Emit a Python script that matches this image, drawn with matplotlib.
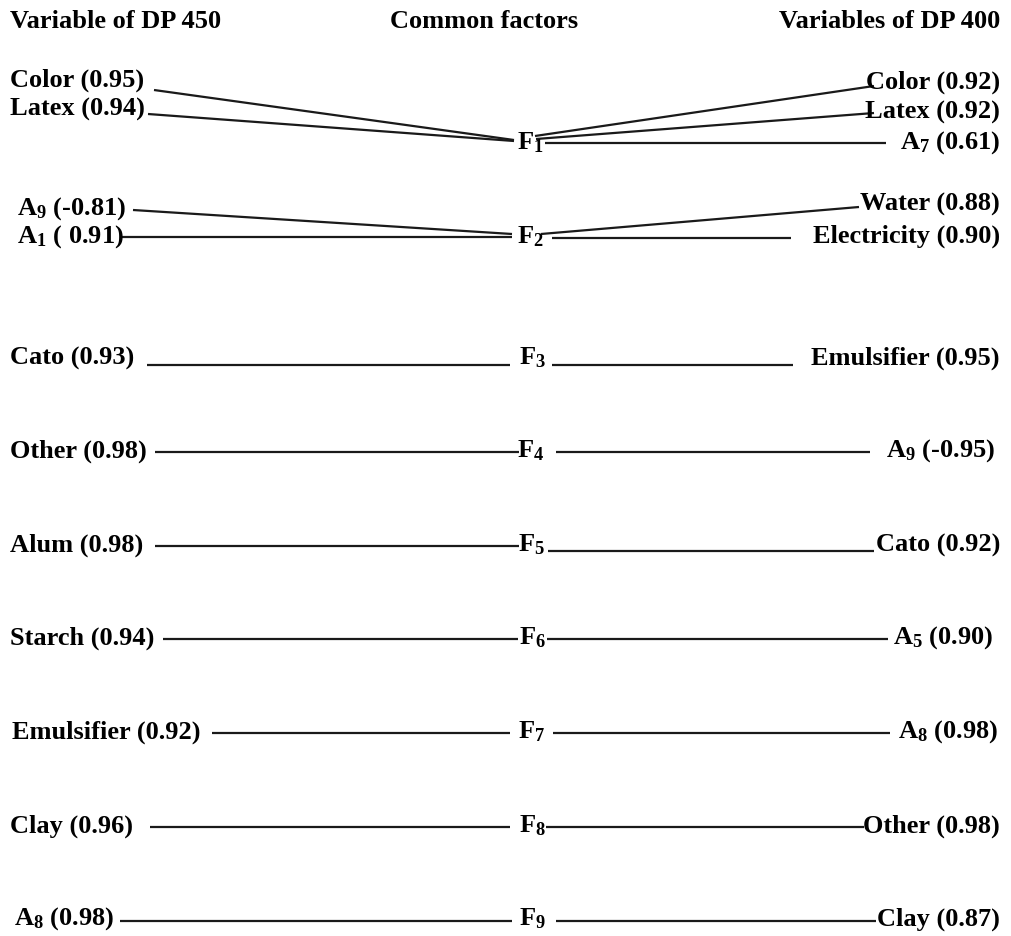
import matplotlib.pyplot as plt

plt.rcParams['font.family'] = ['Liberation Serif', 'DejaVu Serif']
plt.rcParams['font.weight'] = 'bold'
plt.rcParams['mathtext.fontset'] = 'custom'
plt.rcParams['mathtext.rm'] = 'Liberation Serif:bold'
plt.rcParams['mathtext.bf'] = 'Liberation Serif:bold'
plt.rcParams['mathtext.it'] = 'Liberation Serif:bold'
plt.rcParams['mathtext.default'] = 'rm'

# common factors and the variables loading on them
factors = ['F$_1$', 'F$_2$', 'F$_3$', 'F$_4$', 'F$_5$', 'F$_6$', 'F$_7$', 'F$_8$', 'F$_9$']

dp450_names = [['Color', 'Latex'], ['A$_9$', 'A$_1$'], ['Cato'], ['Other'], ['Alum'],
               ['Starch'], ['Emulsifier'], ['Clay'], ['A$_8$']]
dp450_loadings = [[0.95, 0.94], [-0.81, 0.91], [0.93], [0.98], [0.98],
                  [0.94], [0.92], [0.96], [0.98]]

dp400_names = [['Color', 'Latex', 'A$_7$'], ['Water', 'Electricity'], ['Emulsifier'], ['A$_9$'],
               ['Cato'], ['A$_5$'], ['A$_8$'], ['Other'], ['Clay']]
dp400_loadings = [[0.92, 0.92, 0.61], [0.88, 0.90], [0.95], [-0.95],
                  [0.92], [0.90], [0.98], [0.98], [0.87]]

headers = ['Variable of DP 450', 'Common factors', 'Variables of DP 400']

# layout (pixels)
row_y = [143, 237, 358, 451, 545, 638, 732, 826, 919]
factor_x = [530, 530, 532, 531, 531, 532, 532, 532, 532]
left_label_y = [[80, 109], [209, 237]]
right_label_y = [[82, 112, 143], [204, 236]]
left_label_x = [[10, 10], [17, 17], 10, 10, 10, 10, 12, 10, 14]
right_label_x = [[1000, 1000, 1000], [1000, 1000], 1000, 995, 1000, 993, 998, 1000, 1000]
# connector ends: (x_label_side, y_label_side, x_factor_side, y_factor_side)
left_links = [[(154, 91, 514, 141), (148, 115, 514, 142)],
              [(133, 211, 512, 235), (120, 238, 512, 238)]]
right_links = [[(874, 87, 535, 137), (874, 114, 536, 140), (886, 144, 545, 144)],
               [(859, 208, 541, 235), (791, 239, 552, 239)]]
row_left = [(147, 510), (155, 519), (155, 519), (163, 518), (212, 510), (150, 510), (120, 512)]
row_right = [(552, 793), (556, 870), (548, 874), (547, 888), (553, 890), (546, 864), (556, 876)]
row_dy = [(8, 8), (2, 2), (2, 7), (2, 2), (2, 2), (2, 2), (3, 3)]

fs = 19
lc = '#1a1a1a'
lw = 1.6


def label(name, vals, v):
    fmt = '{: .2f}' if min(vals) < 0 else '{:.2f}'
    return name + ' (' + fmt.format(v) + ')'


fig = plt.figure(figsize=(10.12, 9.37), dpi=100)
ax = fig.add_axes([0, 0, 1, 1])
ax.set_xlim(0, 1012)
ax.set_ylim(937, 0)
ax.axis('off')

ax.text(10, 21, headers[0], fontsize=fs, ha='left', va='center')
ax.text(484, 21, headers[1], fontsize=fs, ha='center', va='center')
ax.text(1000, 21, headers[2], fontsize=fs, ha='right', va='center')

for i, f in enumerate(factors):
    ax.text(factor_x[i], row_y[i], f, fontsize=fs, ha='center', va='center')
    if i < 2:
        for j, name in enumerate(dp450_names[i]):
            ax.text(left_label_x[i][j], left_label_y[i][j],
                    label(name, dp450_loadings[i], dp450_loadings[i][j]),
                    fontsize=fs, ha='left', va='center')
            x0, y0, x1, y1 = left_links[i][j]
            ax.plot([x0, x1], [y0, y1], color=lc, lw=lw, solid_capstyle='butt')
        for j, name in enumerate(dp400_names[i]):
            ax.text(right_label_x[i][j], right_label_y[i][j],
                    label(name, dp400_loadings[i], dp400_loadings[i][j]),
                    fontsize=fs, ha='right', va='center')
            x0, y0, x1, y1 = right_links[i][j]
            ax.plot([x0, x1], [y0, y1], color=lc, lw=lw, solid_capstyle='butt')
    else:
        k = i - 2
        ax.text(left_label_x[i], row_y[i],
                label(dp450_names[i][0], dp450_loadings[i], dp450_loadings[i][0]),
                fontsize=fs, ha='left', va='center')
        ax.text(right_label_x[i], row_y[i],
                label(dp400_names[i][0], dp400_loadings[i], dp400_loadings[i][0]),
                fontsize=fs, ha='right', va='center')
        yl = row_y[i] + row_dy[k][0]
        yr = row_y[i] + row_dy[k][1]
        ax.plot(row_left[k], [yl, yl], color=lc, lw=lw, solid_capstyle='butt')
        ax.plot(row_right[k], [yr, yr], color=lc, lw=lw, solid_capstyle='butt')

fig.savefig('out.png', dpi=100)
